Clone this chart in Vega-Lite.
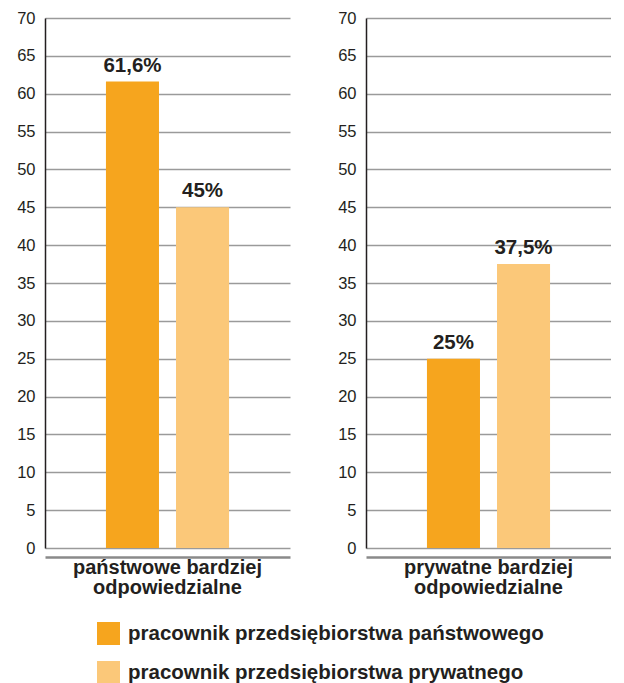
{
  "$schema": "https://vega.github.io/schema/vega-lite/v6.json",
  "padding": {"left": 16, "top": 10, "right": 0, "bottom": 0},
  "background": "white",
  "data": {
    "values": [
      {"kategoria": "państwowe bardziej odpowiedzialne", "grupa": "pracownik przedsiębiorstwa państwowego", "wartosc": 61.6, "etykieta": "61,6%"},
      {"kategoria": "państwowe bardziej odpowiedzialne", "grupa": "pracownik przedsiębiorstwa prywatnego", "wartosc": 45, "etykieta": "45%"},
      {"kategoria": "prywatne bardziej odpowiedzialne", "grupa": "pracownik przedsiębiorstwa państwowego", "wartosc": 25, "etykieta": "25%"},
      {"kategoria": "prywatne bardziej odpowiedzialne", "grupa": "pracownik przedsiębiorstwa prywatnego", "wartosc": 37.5, "etykieta": "37,5%"}
    ]
  },
  "facet": {
    "column": {
      "field": "kategoria",
      "type": "nominal",
      "sort": ["państwowe bardziej odpowiedzialne", "prywatne bardziej odpowiedzialne"],
      "header": {
        "title": null,
        "labelOrient": "bottom",
        "labelPadding": 1,
        "labelFont": "Liberation Sans",
        "labelFontWeight": "bold",
        "labelFontSize": 20,
        "labelColor": "#231f20",
        "labelLineHeight": 20,
        "labelBaseline": "top",
        "labelExpr": "[slice(datum.value, 0, lastindexof(datum.value, ' ')), slice(datum.value, lastindexof(datum.value, ' ') + 1)]"
      }
    }
  },
  "spacing": 47,
  "spec": {
    "width": 245,
    "height": 530,
    "encoding": {
      "x": {
        "field": "grupa",
        "type": "nominal",
        "title": null,
        "sort": ["pracownik przedsiębiorstwa państwowego", "pracownik przedsiębiorstwa prywatnego"],
        "scale": {"paddingInner": 0.243, "paddingOuter": 0.87},
        "axis": {
          "labels": false,
          "ticks": false,
          "domainColor": "#8a8a8a",
          "domainWidth": 2.5
        }
      },
      "y": {
        "field": "wartosc",
        "type": "quantitative",
        "title": null,
        "scale": {"domain": [0, 70], "nice": false},
        "axis": {
          "values": [0, 5, 10, 15, 20, 25, 30, 35, 40, 45, 50, 55, 60, 65, 70],
          "ticks": false,
          "labelPadding": 10,
          "labelFont": "Liberation Sans",
          "labelFontSize": 16.5,
          "labelColor": "#231f20",
          "domainColor": "#231f20",
          "domainWidth": 1.5,
          "grid": true,
          "gridColor": "#9a9a9a",
          "gridWidth": 1.5
        }
      }
    },
    "layer": [
      {
        "mark": {"type": "bar"},
        "encoding": {
          "color": {
            "field": "grupa",
            "type": "nominal",
            "sort": ["pracownik przedsiębiorstwa państwowego", "pracownik przedsiębiorstwa prywatnego"],
            "scale": {"range": ["#F6A51E", "#FBC879"]},
            "legend": {
              "title": null,
              "orient": "none",
              "legendX": 52,
              "legendY": 604,
              "direction": "vertical",
              "symbolType": "square",
              "symbolSize": 529,
              "symbolStrokeWidth": 0,
              "symbolOpacity": 1,
              "labelFont": "Liberation Sans",
              "labelFontWeight": "bold",
              "labelFontSize": 20.5,
              "labelColor": "#231f20",
              "labelOffset": 8,
              "labelLimit": 600,
              "rowPadding": 16
            }
          }
        }
      },
      {
        "mark": {
          "type": "text",
          "dy": -6,
          "baseline": "bottom",
          "font": "Liberation Sans",
          "fontWeight": "bold",
          "fontSize": 20.5,
          "color": "#231f20"
        },
        "encoding": {"text": {"field": "etykieta", "type": "nominal"}}
      }
    ]
  },
  "resolve": {
    "axis": {"y": "independent"}
  },
  "config": {
    "view": {"stroke": null},
    "axis": {"gridCap": "butt"}
  }
}
